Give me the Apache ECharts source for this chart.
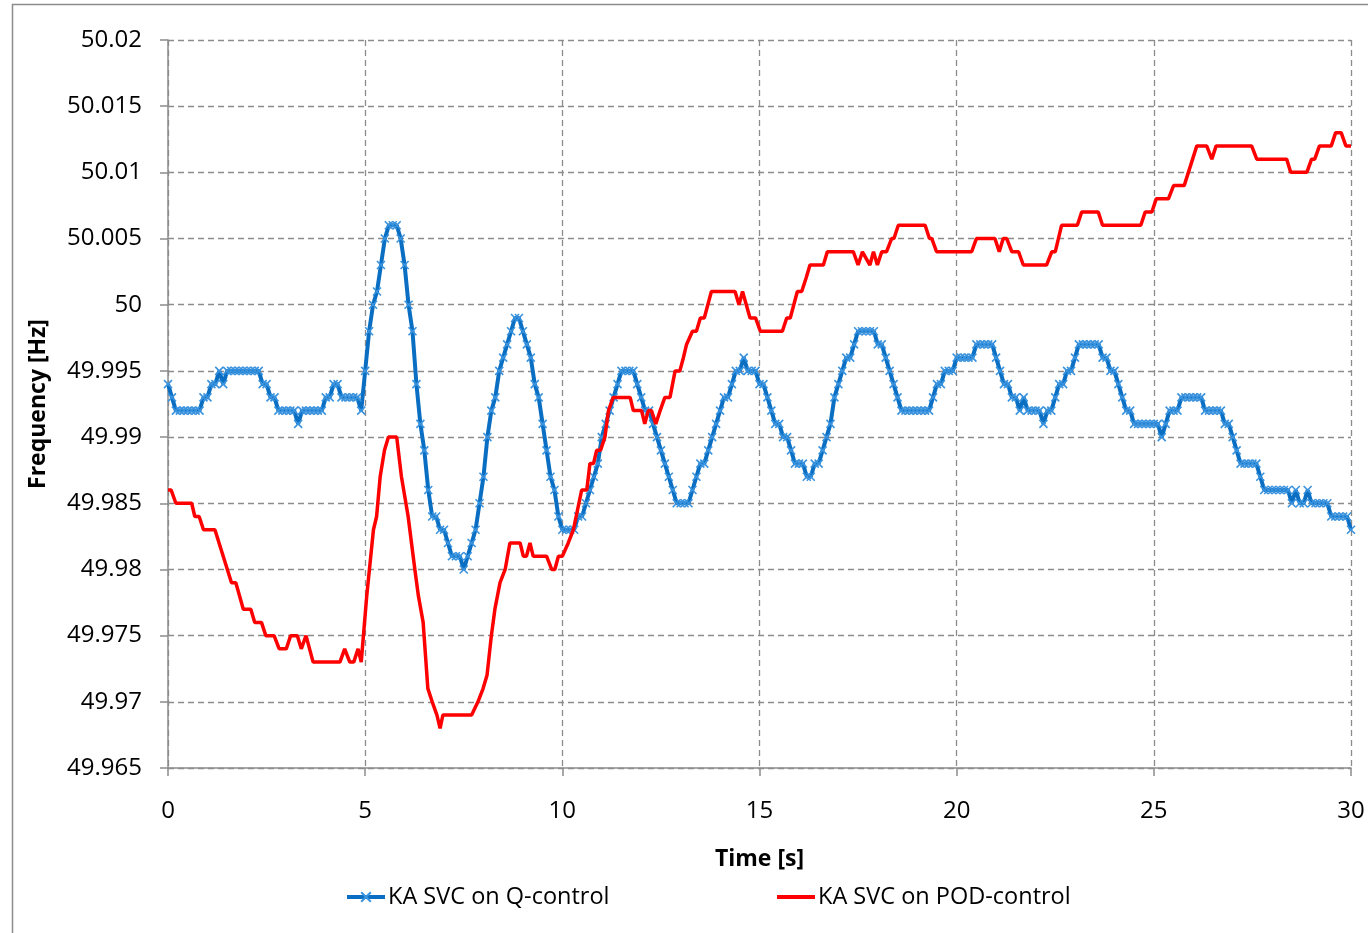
<!DOCTYPE html>
<html>
<head>
<meta charset="utf-8">
<script src="https://cdn.jsdelivr.net/npm/echarts@6/dist/echarts.min.js"></script>
<style>
html,body{margin:0;padding:0;background:#fff;}
#chart{width:1368px;height:933px;}
</style>
</head>
<body>
<div id="chart"></div>
<script>
// Sample step of the Q-control record (seconds)
const sampleStep = 0.1;

// KA SVC on Q-control, one value per 0.1 s from 0 s to 30 s
const qControl = [
  49.994,49.993,49.992,49.992,49.992,49.992,49.992,49.992,49.992,49.993,
  49.993,49.994,49.994,49.995,49.994,49.995,49.995,49.995,49.995,49.995,
  49.995,49.995,49.995,49.995,49.994,49.994,49.993,49.993,49.992,49.992,
  49.992,49.992,49.992,49.991,49.992,49.992,49.992,49.992,49.992,49.992,
  49.993,49.993,49.994,49.994,49.993,49.993,49.993,49.993,49.993,49.992,
  49.995,49.998,50.000,50.001,50.003,50.005,50.006,50.006,50.006,50.005,
  50.003,50.000,49.998,49.994,49.991,49.989,49.986,49.984,49.984,49.983,
  49.983,49.982,49.981,49.981,49.981,49.980,49.981,49.982,49.983,49.985,
  49.987,49.990,49.992,49.993,49.995,49.996,49.997,49.998,49.999,49.999,
  49.998,49.997,49.996,49.994,49.993,49.991,49.989,49.987,49.986,49.984,
  49.983,49.983,49.983,49.983,49.984,49.984,49.985,49.986,49.987,49.988,
  49.990,49.991,49.992,49.993,49.994,49.995,49.995,49.995,49.995,49.994,
  49.993,49.992,49.992,49.991,49.990,49.989,49.988,49.987,49.986,49.985,
  49.985,49.985,49.985,49.986,49.987,49.988,49.988,49.989,49.990,49.991,
  49.992,49.993,49.993,49.994,49.995,49.995,49.996,49.995,49.995,49.995,
  49.994,49.994,49.993,49.992,49.991,49.991,49.990,49.990,49.989,49.988,
  49.988,49.988,49.987,49.987,49.988,49.988,49.989,49.990,49.991,49.993,
  49.994,49.995,49.996,49.996,49.997,49.998,49.998,49.998,49.998,49.998,
  49.997,49.997,49.996,49.995,49.994,49.993,49.992,49.992,49.992,49.992,
  49.992,49.992,49.992,49.992,49.993,49.994,49.994,49.995,49.995,49.995,
  49.996,49.996,49.996,49.996,49.996,49.997,49.997,49.997,49.997,49.997,
  49.996,49.995,49.994,49.994,49.993,49.993,49.992,49.993,49.992,49.992,
  49.992,49.992,49.991,49.992,49.992,49.993,49.994,49.994,49.995,49.995,
  49.996,49.997,49.997,49.997,49.997,49.997,49.997,49.996,49.996,49.995,
  49.995,49.994,49.993,49.992,49.992,49.991,49.991,49.991,49.991,49.991,
  49.991,49.991,49.990,49.991,49.992,49.992,49.992,49.993,49.993,49.993,
  49.993,49.993,49.993,49.992,49.992,49.992,49.992,49.992,49.991,49.991,
  49.990,49.989,49.988,49.988,49.988,49.988,49.988,49.987,49.986,49.986,
  49.986,49.986,49.986,49.986,49.986,49.985,49.986,49.985,49.985,49.986,
  49.985,49.985,49.985,49.985,49.985,49.984,49.984,49.984,49.984,49.984,
  49.983
];

// KA SVC on POD-control: times (s) and values (Hz) at each change point
const podTime = [
  0,0.08,0.2,0.6,0.68,0.79,0.9,1.19,1.61,1.72,1.91,2.1,2.2,2.37,2.48,2.69,2.82,3.0,3.11,3.28,
  3.38,3.5,3.68,4.36,4.48,4.61,4.71,4.82,4.9,5.04,5.21,5.29,5.38,5.49,5.59,5.8,5.92,6.09,6.26,6.35,
  6.47,6.59,6.7,6.82,6.9,6.97,7.7,7.86,7.99,8.09,8.2,8.29,8.42,8.55,8.67,8.93,9.01,9.09,9.18,9.26,
  9.6,9.73,9.81,9.9,10.0,10.15,10.28,10.49,10.62,10.7,10.79,10.87,10.97,11.08,11.17,11.29,11.72,11.8,12.01,12.09,
  12.18,12.26,12.37,12.48,12.6,12.73,12.86,12.98,13.07,13.15,13.3,13.4,13.5,13.6,13.78,14.38,14.48,14.57,14.76,14.9,
  15.02,15.58,15.69,15.78,15.96,16.07,16.18,16.28,16.62,16.72,17.38,17.5,17.61,17.8,17.89,17.99,18.1,18.22,18.35,18.41,
  18.52,19.2,19.31,19.37,19.49,20.38,20.5,20.97,21.08,21.18,21.27,21.4,21.57,21.69,22.28,22.41,22.5,22.66,23.06,23.17,
  23.59,23.7,24.67,24.78,24.95,25.06,25.37,25.5,25.77,26.09,26.34,26.47,26.58,27.48,27.61,28.37,28.47,28.88,29.0,29.08,
  29.2,29.5,29.61,29.75,29.87,30
];
const podValue = [
  49.986,49.986,49.985,49.985,49.984,49.984,49.983,49.983,49.979,49.979,49.977,49.977,49.976,49.976,49.975,49.975,49.974,49.974,49.975,49.975,
  49.974,49.975,49.973,49.973,49.974,49.973,49.973,49.974,49.973,49.978,49.983,49.984,49.987,49.989,49.990,49.990,49.987,49.984,49.980,49.978,
  49.976,49.971,49.970,49.969,49.968,49.969,49.969,49.970,49.971,49.972,49.975,49.977,49.979,49.980,49.982,49.982,49.981,49.981,49.982,49.981,
  49.981,49.980,49.980,49.981,49.981,49.982,49.983,49.986,49.986,49.988,49.988,49.989,49.989,49.990,49.992,49.993,49.993,49.992,49.992,49.991,
  49.992,49.992,49.991,49.992,49.993,49.993,49.995,49.995,49.996,49.997,49.998,49.998,49.999,49.999,50.001,50.001,50.000,50.001,49.999,49.999,
  49.998,49.998,49.999,49.999,50.001,50.001,50.002,50.003,50.003,50.004,50.004,50.003,50.004,50.003,50.004,50.003,50.004,50.004,50.005,50.005,
  50.006,50.006,50.005,50.005,50.004,50.004,50.005,50.005,50.004,50.005,50.005,50.004,50.004,50.003,50.003,50.004,50.004,50.006,50.006,50.007,
  50.007,50.006,50.006,50.007,50.007,50.008,50.008,50.009,50.009,50.012,50.012,50.011,50.012,50.012,50.011,50.011,50.010,50.010,50.011,50.011,
  50.012,50.012,50.013,50.013,50.012,50.012
];

const seriesNames = ['KA SVC on Q-control', 'KA SVC on POD-control'];
const xAxisTitle = 'Time [s]';
const yAxisTitle = 'Frequency [Hz]';

const qData = qControl.map((v, i) => [i * sampleStep, v]);
const podData = podTime.map((t, i) => [t, podValue[i]]);

const FONT = 'Open Sans';
const gridColor = '#8c8c8c';

const chart = echarts.init(document.getElementById('chart'), null, {renderer: 'canvas'});
chart.setOption({
  animation: false,
  backgroundColor: '#ffffff',
  textStyle: {fontFamily: FONT},
  graphic: [{
    type: 'rect', silent: true, z: -10,
    shape: {x: 12.5, y: 4.5, width: 1400, height: 1000},
    style: {fill: 'none', stroke: '#8c8c8c', lineWidth: 1.5}
  }],
  grid: {left: 168, right: 17, top: 40, bottom: 165, containLabel: false},
  legend: [{
    data: [seriesNames[0]], left: 345, top: 885, padding: 0,
    itemWidth: 38, itemHeight: 12, itemGap: 4,
    lineStyle: {width: 4, color: '#0a6fc2'},
    textStyle: {fontFamily: FONT, fontSize: 23.5, color: '#000', padding: [0, 0, 0, -2]}
  }, {
    data: [{name: seriesNames[1], icon: 'rect', itemStyle: {color: '#ff0000'}}],
    left: 777, top: 885, padding: 0,
    itemWidth: 38, itemHeight: 4, itemGap: 4,
    textStyle: {fontFamily: FONT, fontSize: 23.5, color: '#000', padding: [0, 0, 0, -2]}
  }],
  xAxis: {
    type: 'value', min: 0, max: 30, interval: 5,
    name: xAxisTitle, nameLocation: 'middle', nameGap: 80,
    nameTextStyle: {fontFamily: FONT, fontSize: 23, fontWeight: 'bold', color: '#000'},
    axisLine: {show: true, onZero: false, lineStyle: {color: gridColor, width: 1.5}},
    axisTick: {show: true, length: 8, lineStyle: {color: gridColor, width: 1.5}},
    axisLabel: {fontFamily: FONT, fontSize: 24, color: '#000', margin: 31},
    splitLine: {show: true, lineStyle: {color: gridColor, width: 1.3, type: [6, 4]}}
  },
  yAxis: {
    type: 'value', min: 49.965, max: 50.02, interval: 0.005,
    name: yAxisTitle, nameLocation: 'middle', nameGap: 118, nameRotate: 90,
    nameTextStyle: {fontFamily: FONT, fontSize: 23, fontWeight: 'bold', color: '#000'},
    axisLine: {show: true, lineStyle: {color: gridColor, width: 1.5}},
    axisTick: {show: true, length: 8, lineStyle: {color: gridColor, width: 1.5}},
    axisLabel: {
      fontFamily: FONT, fontSize: 24, color: '#000', margin: 26,
      formatter: v => String(parseFloat(v.toFixed(3)))
    },
    splitLine: {show: true, lineStyle: {color: gridColor, width: 1.3, type: [6, 4]}}
  },
  series: [{
    name: seriesNames[0], type: 'line', data: qData,
    showAllSymbol: true,
    symbol: 'path://M0,0L10,10M10,0L0,10', symbolSize: 8,
    itemStyle: {color: '#3a93de', borderColor: '#3a93de', borderWidth: 1.6},
    lineStyle: {color: '#0a6fc2', width: 4},
    z: 2
  }, {
    name: seriesNames[1], type: 'line', data: podData,
    showSymbol: false, symbol: 'none',
    itemStyle: {color: '#ff0000'},
    lineStyle: {color: '#ff0000', width: 3.5},
    z: 3
  }]
});
</script>
</body>
</html>
